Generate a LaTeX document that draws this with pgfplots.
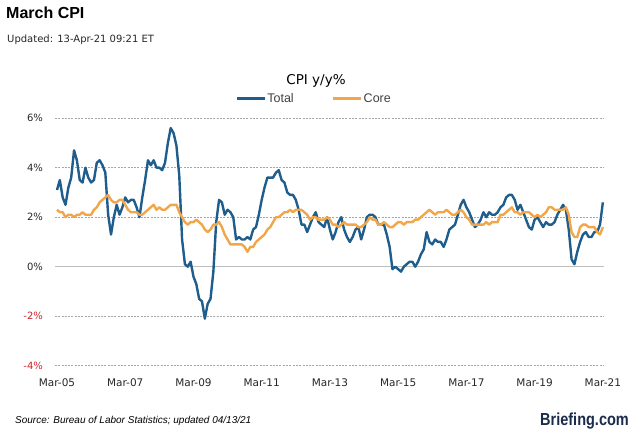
\documentclass[border=0pt]{standalone}
\usepackage{pgfplots}
\pgfplotsset{compat=1.18}
\usepackage{pgfplotstable}
\usepackage{fontspec}
\setmainfont{Liberation Sans}
\newfontfamily\dejavu{DejaVu Sans}
\definecolor{cpiblue}{HTML}{1F5E8C}
\definecolor{cpiorange}{HTML}{F2A64A}
\definecolor{briefnavy}{HTML}{1B2B4B}
\definecolor{negred}{HTML}{D0202A}

% Monthly y/y %, Mar-2005 ... Mar-2021
\pgfplotstableread{
total core
3.1 2.3
3.5 2.2
2.8 2.2
2.5 2.0
3.2 2.1
3.6 2.1
4.7 2.0
4.3 2.1
3.5 2.1
3.4 2.2
4.0 2.1
3.6 2.1
3.4 2.1
3.5 2.3
4.2 2.4
4.3 2.6
4.1 2.7
3.8 2.8
2.1 2.9
1.3 2.7
2.0 2.6
2.5 2.6
2.1 2.7
2.4 2.7
2.8 2.5
2.6 2.3
2.7 2.2
2.7 2.2
2.4 2.2
2.0 2.1
2.8 2.1
3.5 2.2
4.3 2.3
4.1 2.4
4.3 2.5
4.0 2.3
4.0 2.4
3.9 2.3
4.2 2.3
5.0 2.4
5.6 2.5
5.4 2.5
4.9 2.5
3.7 2.2
1.1 2.0
0.1 1.8
0.0 1.7
0.2 1.8
-0.4 1.8
-0.7 1.9
-1.3 1.8
-1.4 1.7
-2.1 1.5
-1.5 1.4
-1.3 1.5
-0.2 1.7
1.8 1.7
2.7 1.8
2.6 1.6
2.1 1.3
2.3 1.1
2.2 0.9
2.0 0.9
1.1 0.9
1.2 0.9
1.1 0.9
1.1 0.8
1.2 0.6
1.1 0.8
1.5 0.8
1.6 1.0
2.1 1.1
2.7 1.2
3.2 1.3
3.6 1.5
3.6 1.6
3.6 1.8
3.8 2.0
3.9 2.0
3.5 2.1
3.4 2.2
3.0 2.2
2.9 2.3
2.9 2.2
2.7 2.3
2.3 2.3
1.7 2.3
1.7 2.2
1.4 2.1
1.7 1.9
2.0 2.0
2.2 2.0
1.8 1.9
1.7 1.9
1.6 1.9
2.0 2.0
1.5 1.9
1.1 1.7
1.4 1.7
1.8 1.6
2.0 1.7
1.5 1.8
1.2 1.7
1.0 1.7
1.2 1.7
1.5 1.7
1.6 1.6
1.1 1.6
1.5 1.7
2.0 1.8
2.1 2.0
2.1 1.9
2.0 1.9
1.7 1.7
1.7 1.7
1.7 1.8
1.3 1.7
0.8 1.6
-0.1 1.6
0.0 1.7
-0.1 1.8
-0.2 1.8
0.0 1.7
0.1 1.8
0.2 1.8
0.2 1.8
0.0 1.9
0.2 1.9
0.5 2.0
0.7 2.1
1.4 2.2
1.0 2.3
0.9 2.2
1.1 2.1
1.0 2.2
1.0 2.2
0.8 2.2
1.1 2.3
1.5 2.2
1.6 2.1
1.7 2.1
2.1 2.2
2.5 2.3
2.7 2.2
2.4 2.0
2.2 1.9
1.9 1.7
1.6 1.7
1.7 1.7
1.9 1.7
2.2 1.7
2.0 1.8
2.2 1.7
2.1 1.8
2.1 1.8
2.2 1.8
2.4 2.1
2.5 2.1
2.8 2.2
2.9 2.3
2.9 2.4
2.7 2.2
2.3 2.2
2.5 2.1
2.2 2.2
1.9 2.2
1.6 2.2
1.5 2.1
1.9 2.0
2.0 2.1
1.8 2.0
1.6 2.1
1.8 2.2
1.7 2.4
1.7 2.4
1.8 2.3
2.1 2.3
2.3 2.3
2.5 2.3
2.3 2.4
1.5 2.1
0.3 1.4
0.1 1.2
0.6 1.2
1.0 1.6
1.3 1.7
1.4 1.7
1.2 1.6
1.2 1.6
1.4 1.6
1.4 1.4
1.7 1.3
2.6 1.6
}\cpidata

\begin{document}
\begin{tikzpicture}
\path[use as bounding box] (0,0) rectangle (640pt,443pt);

\node[anchor=base west, inner sep=0pt, font=\bfseries\fontsize{16pt}{18pt}\selectfont] at (6pt,424pt) {March CPI};
\node[anchor=base west, inner sep=0pt, font=\dejavu\fontsize{10pt}{12pt}\selectfont, text=black!85] at (7pt,400pt) {Updated: 13-Apr-21 09:21 ET};
\node[anchor=base, inner sep=0pt, font=\dejavu\fontsize{13.5pt}{15pt}\selectfont] at (316pt,358pt) {CPI y/y\%};

\begin{axis}[
  at={(55pt,77.3pt)}, anchor=south west,
  scale only axis, width=549pt, height=247.5pt,
  xmin=-0.7, xmax=192.4, ymin=-4, ymax=6,
  axis line style={draw=none},
  tick style={draw=none},
  major tick length=0pt,
  xtick={0,24,48,72,96,120,144,168,192},
  xticklabels={Mar-05,Mar-07,Mar-09,Mar-11,Mar-13,Mar-15,Mar-17,Mar-19,Mar-21},
  xticklabel style={font=\dejavu\fontsize{10.5pt}{12pt}\selectfont, text=black!85, yshift=-9.5pt},
  ytick={-4,-2,2,4,6},
  yticklabels={\textcolor{negred}{-4\%},\textcolor{negred}{-2\%},2\%,4\%,6\%},
  yticklabel style={font=\dejavu\fontsize{10pt}{12pt}\selectfont, text=black!85, xshift=-8.5pt},
  extra y ticks={0},
  extra y tick labels={0\%},
  extra y tick style={grid style={solid, draw=black!25, line width=1pt}},
  ymajorgrids,
  grid style={draw=black!35, line width=0.7pt, dash pattern=on 2pt off 1.3pt},
  legend style={at={(axis description cs:0.471,1.078)}, anchor=center, draw=none, fill=none,
    legend columns=2, font=\fontsize{12.5pt}{14pt}\selectfont, text=black!75,
    inner sep=0pt, nodes={inner sep=1pt},
    /tikz/every even column/.append style={column sep=37pt}},
  legend image code/.code={\draw[#1, line width=3pt] (0pt,0pt) -- (28pt,0pt);},
]
\addplot[cpiblue, line width=2.4pt, line join=round] table[x expr=\coordindex, y=total] {\cpidata};
\addlegendentry{Total}
\addplot[cpiorange, line width=2.4pt, line join=round] table[x expr=\coordindex, y=core] {\cpidata};
\addlegendentry{Core}
\end{axis}

\node[anchor=base west, inner sep=0pt, font=\itshape\fontsize{10pt}{12pt}\selectfont] at (15pt,19pt) {Source: Bureau of Labor Statistics; updated 04/13/21};
\node[anchor=base west, inner sep=0pt, font=\bfseries\fontsize{14.5pt}{16pt}\selectfont, text=briefnavy, yscale=1.2, transform shape] at (540pt,17pt) {Briefing.com};
\end{tikzpicture}
\end{document}
